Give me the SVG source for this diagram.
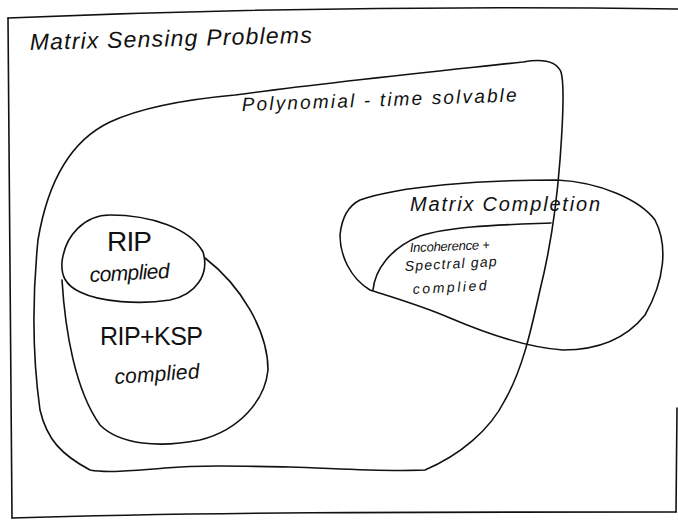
<svg xmlns="http://www.w3.org/2000/svg" width="678" height="521" viewBox="0 0 678 521">
<style>
.ln{fill:none;stroke:#111;stroke-width:1.6;stroke-linecap:round;stroke-linejoin:round}
.t{font-family:"Liberation Sans","DejaVu Sans",sans-serif;font-style:italic;fill:#111}
.u{font-style:normal}
</style>
<rect width="678" height="521" fill="#fff"/>
<g id="frame">
<path class="ln" d="M8,18 C150,12 400,5 678,9"/>
<path class="ln" d="M8,18 L12,518"/>
<path class="ln" d="M12,518 C200,512 400,512 676,512"/>
<path class="ln" d="M676,512 L677,408"/>
<text class="t" x="30" y="50" font-size="23" textLength="282" lengthAdjust="spacing" transform="rotate(-1.5 30 50)">Matrix Sensing Problems</text>
</g>
<g id="polynomial">
<path class="ln" d="M523,62 C540,59 556,60 561,72 C565,85 563,120 560,160 C557,200 550,250 540,290 C530,335 522,370 505,400 C490,430 460,455 425,470 C380,472 330,468 290,467 C240,466 200,465 165,468 C130,471 105,473 90,470 C62,455 47,440 40,410 C33,360 32,300 38,240 C48,180 72,140 110,122 C140,108 180,100 235,95 C330,82 430,72 523,62 Z"/>
<text class="t" x="242" y="111" font-size="19" textLength="275" lengthAdjust="spacing" transform="rotate(-2 242 111)">Polynomial - time solvable</text>
</g>
<g id="matrix-completion">
<path class="ln" d="M360,200 C400,186 480,180 557,180 C600,182 640,200 655,220 C668,245 665,280 645,315 C625,340 595,350 563,350 C530,348 490,335 450,318 C420,305 385,295 370,290 C350,278 340,255 340,235 C342,215 350,205 360,200 Z"/>
<text class="t" x="410" y="211" font-size="20" textLength="190" lengthAdjust="spacing">Matrix Completion</text>
</g>
<g id="incoherence">
<path class="ln" d="M373,290 C375,270 390,248 420,236 C450,226 500,225 551,223"/>
<text class="t" x="410" y="252" font-size="13" textLength="80" lengthAdjust="spacing" transform="rotate(-2 410 252)">Incoherence +</text>
<text class="t" x="405" y="271" font-size="14" textLength="92" lengthAdjust="spacing" transform="rotate(-3 405 271)">Spectral gap</text>
<text class="t" x="413" y="294" font-size="14" textLength="74" lengthAdjust="spacing" transform="rotate(-3 413 294)">complied</text>
</g>
<g id="rip">
<path class="ln" d="M62,262 C65,235 85,215 110,215 C150,215 190,228 203,252 C210,275 195,295 170,300 C140,305 100,302 80,292 C65,285 61,275 62,262 Z"/>
<text class="t u" x="107" y="251" font-size="28" textLength="45" lengthAdjust="spacing">RIP</text>
<text class="t" x="90" y="282" font-size="21" textLength="80" lengthAdjust="spacing" transform="rotate(-3 90 282)">complied</text>
</g>
<g id="rip-ksp">
<path class="ln" d="M62,280 C65,330 75,390 100,425 C120,445 160,448 200,440 C240,430 265,400 268,370 C268,330 240,285 205,258"/>
<text class="t u" x="100" y="345" font-size="25" textLength="103" lengthAdjust="spacing">RIP+KSP</text>
<text class="t" x="115" y="384" font-size="21" textLength="85" lengthAdjust="spacing" transform="rotate(-4 115 384)">complied</text>
</g>
</svg>
